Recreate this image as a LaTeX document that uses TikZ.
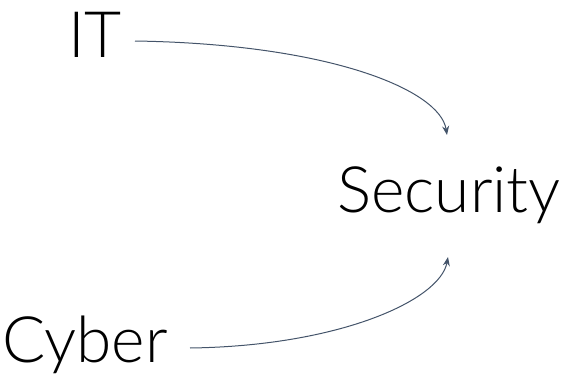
\documentclass[tikz,border=0pt]{standalone}
\usepackage{fontspec}
\setmainfont{Lato}[UprightFont=* Light]
\usetikzlibrary{arrows.meta}
\definecolor{arrowslate}{HTML}{44546A}
\tikzset{
  word/.style={inner sep=0pt, anchor=base west, text=black, font=\fontsize{64}{70}\selectfont},
  flow/.style={draw=arrowslate, line width=1pt, -{Stealth[length=9pt,width=7pt]}}
}
\begin{document}
\begin{tikzpicture}[x=1pt,y=-1pt]
  \useasboundingbox (0,0) rectangle (566,380);
  \node[word] (it) at (68,57) {IT};
  \node[word] (sec) at (337,212) {Security};
  \node[word] (cyb) at (2,362) {Cyber};
  % arrow end points next to the words
  \coordinate (itout) at (135,41);
  \coordinate (cybout) at (190,348);
  \coordinate (secin) at (447,135);
  \coordinate (secfrom) at (448,257);
  \draw[flow] (itout) .. controls (330,44) and (440,90) .. (secin);
  \draw[flow] (cybout) .. controls (340,346) and (440,300) .. (secfrom);
\end{tikzpicture}
\end{document}
